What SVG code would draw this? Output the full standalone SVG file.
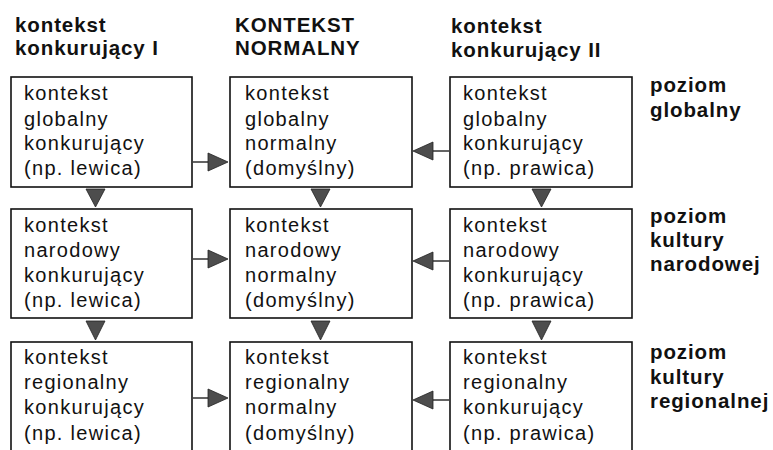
<svg xmlns="http://www.w3.org/2000/svg" width="773" height="450" viewBox="0 0 773 450">
  <style>
    .box { fill: #fff; stroke: #111; stroke-width: 1.6; }
    .t { font-family: "Liberation Sans", Arial, sans-serif; font-size: 20px; letter-spacing: 1.3px; fill: #111; }
    .h { font-family: "Liberation Sans", Arial, sans-serif; font-size: 20.5px; font-weight: bold; letter-spacing: 0.9px; fill: #111; }
    .link { stroke: #222; stroke-width: 1.4; fill: none; }
    .head { fill: #4d4d4d; stroke: #222; stroke-width: 0.8; }
  </style>

  <!-- column headings -->
  <g id="head-col1">
    <text class="h" x="15" y="32">kontekst</text>
    <text class="h" x="15" y="55">konkurujący I</text>
  </g>
  <g id="head-col2">
    <text class="h" x="235" y="32">KONTEKST</text>
    <text class="h" x="235" y="55">NORMALNY</text>
  </g>
  <g id="head-col3">
    <text class="h" x="451" y="33">kontekst</text>
    <text class="h" x="451" y="57">konkurujący II</text>
  </g>

  <!-- row headings -->
  <g id="level-global">
    <text class="h" x="650" y="92">poziom</text>
    <text class="h" x="650" y="117">globalny</text>
  </g>
  <g id="level-national">
    <text class="h" x="650" y="223">poziom</text>
    <text class="h" x="650" y="247">kultury</text>
    <text class="h" x="650" y="271">narodowej</text>
  </g>
  <g id="level-regional">
    <text class="h" x="650" y="359">poziom</text>
    <text class="h" x="650" y="384">kultury</text>
    <text class="h" x="650" y="408">regionalnej</text>
  </g>

  <!-- row 1: global -->
  <g id="global-left">
    <rect class="box" x="11" y="77" width="181" height="110"/>
    <text class="t" x="24" y="100">kontekst</text>
    <text class="t" x="24" y="126">globalny</text>
    <text class="t" x="24" y="150">konkurujący</text>
    <text class="t" x="24" y="175">(np. lewica)</text>
  </g>
  <g id="global-normal">
    <rect class="box" x="230" y="77" width="182" height="110"/>
    <text class="t" x="245" y="100">kontekst</text>
    <text class="t" x="245" y="126">globalny</text>
    <text class="t" x="245" y="150">normalny</text>
    <text class="t" x="245" y="175">(domyślny)</text>
  </g>
  <g id="global-right">
    <rect class="box" x="450" y="77" width="182" height="110"/>
    <text class="t" x="463" y="100">kontekst</text>
    <text class="t" x="463" y="126">globalny</text>
    <text class="t" x="463" y="150">konkurujący</text>
    <text class="t" x="463" y="175">(np. prawica)</text>
  </g>

  <!-- row 2: national -->
  <g id="national-left">
    <rect class="box" x="11" y="209" width="181" height="109"/>
    <text class="t" x="24" y="232">kontekst</text>
    <text class="t" x="24" y="257">narodowy</text>
    <text class="t" x="24" y="282">konkurujący</text>
    <text class="t" x="24" y="307">(np. lewica)</text>
  </g>
  <g id="national-normal">
    <rect class="box" x="230" y="209" width="182" height="109"/>
    <text class="t" x="245" y="232">kontekst</text>
    <text class="t" x="245" y="257">narodowy</text>
    <text class="t" x="245" y="282">normalny</text>
    <text class="t" x="245" y="307">(domyślny)</text>
  </g>
  <g id="national-right">
    <rect class="box" x="450" y="209" width="182" height="109"/>
    <text class="t" x="463" y="232">kontekst</text>
    <text class="t" x="463" y="257">narodowy</text>
    <text class="t" x="463" y="282">konkurujący</text>
    <text class="t" x="463" y="307">(np. prawica)</text>
  </g>

  <!-- row 3: regional (runs past the lower edge) -->
  <g id="regional-left">
    <rect class="box" x="11" y="342" width="181" height="130"/>
    <text class="t" x="24" y="364">kontekst</text>
    <text class="t" x="24" y="389">regionalny</text>
    <text class="t" x="24" y="414">konkurujący</text>
    <text class="t" x="24" y="440">(np. lewica)</text>
  </g>
  <g id="regional-normal">
    <rect class="box" x="230" y="342" width="182" height="130"/>
    <text class="t" x="245" y="364">kontekst</text>
    <text class="t" x="245" y="389">regionalny</text>
    <text class="t" x="245" y="414">normalny</text>
    <text class="t" x="245" y="440">(domyślny)</text>
  </g>
  <g id="regional-right">
    <rect class="box" x="450" y="342" width="182" height="130"/>
    <text class="t" x="463" y="364">kontekst</text>
    <text class="t" x="463" y="389">regionalny</text>
    <text class="t" x="463" y="414">konkurujący</text>
    <text class="t" x="463" y="440">(np. prawica)</text>
  </g>

  <!-- connectors -->
  <g id="connectors">
    <!-- left column feeds the normal column -->
    <line class="link" x1="193" y1="162" x2="209" y2="162"/>
    <polygon class="head" points="208,153 228,162 208,171"/>
    <line class="link" x1="193" y1="259" x2="209" y2="259"/>
    <polygon class="head" points="208,250 228,259 208,268"/>
    <line class="link" x1="193" y1="398" x2="209" y2="398"/>
    <polygon class="head" points="208,389 228,398 208,407"/>

    <!-- right column feeds the normal column -->
    <line class="link" x1="449" y1="151" x2="432" y2="151"/>
    <polygon class="head" points="433,142 413,151 433,160"/>
    <line class="link" x1="449" y1="261" x2="432" y2="261"/>
    <polygon class="head" points="433,252 413,261 433,270"/>
    <line class="link" x1="449" y1="400" x2="432" y2="400"/>
    <polygon class="head" points="433,391 413,400 433,409"/>

    <!-- downward links between levels -->
    <polygon class="head" points="86,189 105,189 95.5,207"/>
    <polygon class="head" points="311,189 330,189 320.5,207"/>
    <polygon class="head" points="532,189 551,189 541.5,207"/>
    <polygon class="head" points="86,321 105,321 95.5,340"/>
    <polygon class="head" points="311,321 330,321 320.5,340"/>
    <polygon class="head" points="532,321 551,321 541.5,340"/>
  </g>
</svg>
